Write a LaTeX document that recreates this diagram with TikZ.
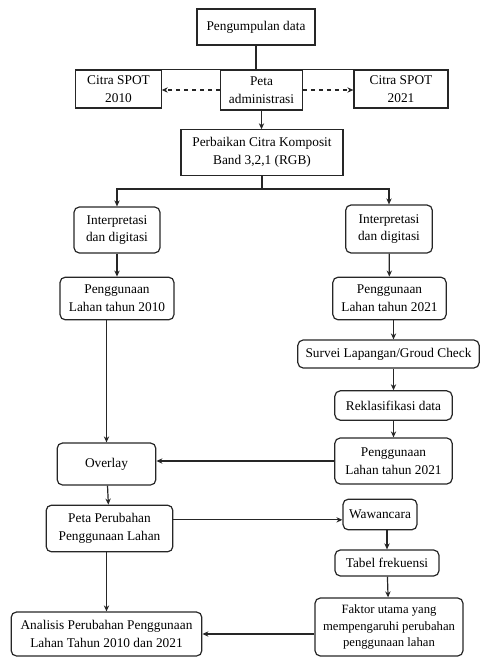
\documentclass[tikz,border=0pt]{standalone}
\usepackage{fontspec}
\setmainfont{Liberation Serif}
\usetikzlibrary{arrows.meta}

\begin{document}
\begin{tikzpicture}[x=0.75pt,y=-0.75pt,>={Stealth[length=4.5pt,width=4pt]},font=\rmfamily\fontsize{10}{13.3}\selectfont]
        \tikzstyle{plain}=[rectangle,draw=black!85,line width=0.9pt,align=center,inner sep=1pt]
        \tikzstyle{round}=[plain,rounded corners=4pt]
        \tikzstyle{edge}=[draw=black!85,line width=0.9pt]

        \useasboundingbox (0,0) rectangle (480,657);

       \begin{scope}

         % atas
         \node [plain,minimum width=88.5pt,minimum height=27pt] (pd) at (256,27) {Pengumpulan data};
         \node [plain,minimum width=64pt,minimum height=28.5pt] (c2010) at (118.5,89) {Citra SPOT\\2010};
         \node [plain,minimum width=61pt,minimum height=30pt] (pa) at (261.5,90) {Peta\\administrasi};
         \node [plain,minimum width=70.5pt,minimum height=28.5pt] (c2021) at (401,89) {Citra SPOT\\2021};
         \node [plain,minimum width=121.5pt,minimum height=34pt] (pk) at (262,152.5) {Perbaikan Citra Komposit\\Band 3,2,1 (RGB)};
         \coordinate (split) at (262,189);

         % kiri
         \node [round,minimum width=64.5pt,minimum height=34.5pt] (in1) at (117,230) {Interpretasi\\dan digitasi};
         \node [round,minimum width=85.5pt,minimum height=32pt] (pg1) at (117,298.5) {Penggunaan\\Lahan tahun 2010};
         \node [round,minimum width=74pt,minimum height=31.5pt] (ov) at (106.5,464) {Overlay};
         \node [round,minimum width=95pt,minimum height=35pt] (pp) at (109.5,528.5) {Peta Perubahan\\Penggunaan Lahan};
         \node [round,minimum width=143pt,minimum height=33pt] (an) at (106.5,634) {Analisis Perubahan Penggunaan\\Lahan Tahun 2010 dan 2021};

         % kanan
         \node [round,minimum width=65pt,minimum height=36pt] (in2) at (389,229) {Interpretasi\\dan digitasi};
         \node [round,minimum width=85pt,minimum height=32pt] (pg2) at (389.5,298.5) {Penggunaan\\Lahan tahun 2021};
         \node [round,minimum width=136pt,minimum height=21pt] (sv) at (388.5,354) {Survei Lapangan/Groud Check};
         \node [round,minimum width=88pt,minimum height=22pt] (rk) at (393.5,405.5) {Reklasifikasi data};
         \node [round,minimum width=88pt,minimum height=34.5pt] (pg3) at (393.5,461) {Penggunaan\\Lahan tahun 2021};
         \node [round,minimum width=55.5pt,minimum height=23pt] (ww) at (380,514.5) {Wawancara};
         \node [round,minimum width=78pt,minimum height=19.5pt] (tf) at (387,563) {Tabel frekuensi};
         \node [round,minimum width=111pt,minimum height=43.5pt,font=\rmfamily\fontsize{9.5}{12.5}\selectfont] (fu) at (389,627) {Faktor utama yang\\mempengaruhi perubahan\\penggunaan lahan};

 		\path (pd.south) edge[edge] (pd.south |- pa.north);
 		\path (c2010.north) edge[edge] (c2021.north west);
 		\path (pa.west) edge[edge,->,dashed] (pa.west -| c2010.east);
 		\path (pa.east) edge[edge,->,dashed] (pa.east -| c2021.west);
 		\path (pa.south) edge[edge,->] (pa.south |- pk.north);

 		\path (pk.south) edge[edge] (split);
 		\draw[edge,->] (split) -| (in1.north);
 		\draw[edge,->] (split) -| (in2.north);

 		\path (in1) edge[edge,->] (pg1);
 		\path (pg1.south -| ov.north) edge[edge,->] (ov.north);
 		\path (pg3.west) edge[edge,->] (pg3.west -| ov.east);
 		\path (ov) edge[edge,->] (pp);
 		\path (pp.south -| an.north) edge[edge,->] (an.north);

 		\path (in2) edge[edge,->] (pg2);
 		\path (pg2.south -| rk.north) edge[edge,->] (sv.north -| rk.north);
 		\path (sv.south -| rk.north) edge[edge,->] (rk.north);
 		\path (rk) edge[edge,->] (pg3);

 		\path ([yshift=-4pt]ww.west -| pp.east) edge[edge,->] ([yshift=-4pt]ww.west);
 		\path (ww.south -| tf.north) edge[edge,->] (tf.north);
 		\path (tf) edge[edge,->] (fu);
 		\path (fu.west |- an.east) edge[edge,->] (an.east);

        \end{scope}
      \end{tikzpicture}
\end{document}
